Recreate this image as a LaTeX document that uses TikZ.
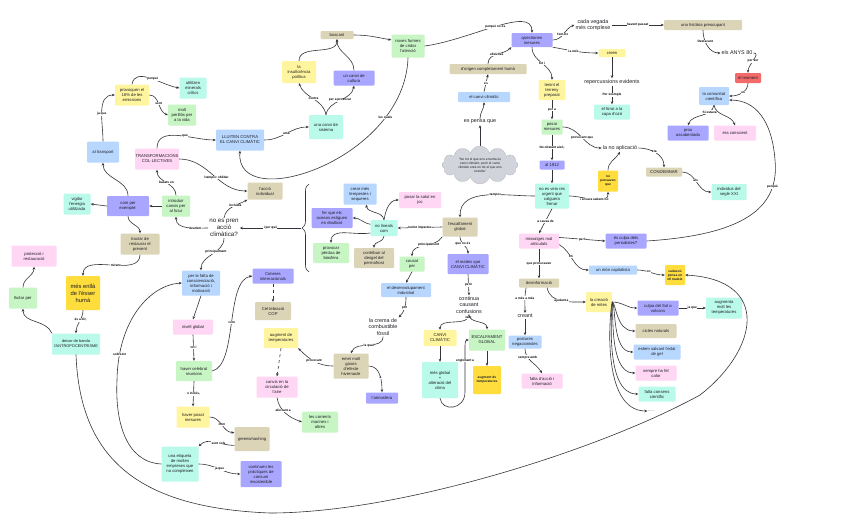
\documentclass[tikz,border=0pt]{standalone}
\usepackage{fontspec}
\setmainfont{Liberation Sans}
\usetikzlibrary{arrows.meta,shapes.symbols,decorations.pathreplacing}
\definecolor{cYel}{HTML}{FFF59E}
\definecolor{cMint}{HTML}{B9FAEA}
\definecolor{cGrn}{HTML}{C7F5C4}
\definecolor{cBlu}{HTML}{B8D7FF}
\definecolor{cPnk}{HTML}{FFD6F3}
\definecolor{cPur}{HTML}{A9A6FF}
\definecolor{cTan}{HTML}{DCD4B6}
\definecolor{cGold}{HTML}{FFDD3C}
\definecolor{cRed}{HTML}{F26A6A}
\definecolor{cCloud}{HTML}{D1D4DA}
\definecolor{cLine}{HTML}{34343C}
\definecolor{cTxt}{HTML}{1E1E24}
\newcommand\fA{\fontsize{4.2}{5}\selectfont}
\newcommand\fT{\fontsize{3.3}{3.9}\selectfont}
\newcommand\fL{\fontsize{3.2}{3.6}\selectfont}
\newcommand\fM{\fontsize{5.4}{6.4}\selectfont}
\newcommand\fB{\fontsize{6.2}{7.2}\selectfont}
\tikzset{
  box/.style={rectangle, rounded corners=1pt, align=center, font=\fA, text=cTxt, inner sep=0.5pt},
  sz/.style 2 args={minimum width=#1pt, minimum height=#2pt},
  byel/.style={box, fill=cYel},
  bmint/.style={box, fill=cMint},
  bgrn/.style={box, fill=cGrn},
  bblu/.style={box, fill=cBlu},
  bpnk/.style={box, fill=cPnk},
  bpur/.style={box, fill=cPur},
  btan/.style={box, fill=cTan},
  bred/.style={box, fill=cRed},
  bgold/.style={box, fill=cGold, font=\fT\bfseries},
  tmid/.style={align=center, font=\fM, text=cTxt, inner sep=1pt},
  tbig/.style={align=center, font=\fB, text=cTxt, inner sep=1pt},
  cloudn/.style={cloud, cloud puffs=12, cloud ignores aspect, minimum width=76pt, minimum height=38pt, fill=cCloud, draw=cCloud!85!black, line width=0.3pt, align=center, font=\fT, text=cTxt, inner sep=0pt},
  lbl/.style={font=\fL\bfseries, fill=white, inner sep=0.4pt, text=black},
  con/.style={draw=cLine, line width=0.6pt, -{Stealth[length=3pt,width=2.6pt]}},
}
\begin{document}
\begin{tikzpicture}[x=1pt,y=1pt]
\fill[white] (0,0) rectangle (848,-530);
\useasboundingbox (0,0) rectangle (848,-530);

% nodes
\node[byel,sz={34}{21}] (prov) at (132,-95) {provoquen el\\18\% de les\\emissions};
\node[bmint,sz={27}{21}] (util) at (193,-88) {utilitzen\\minerals\\crítics};
\node[bgrn,sz={28}{21}] (molt) at (182,-115) {molt\\perillós per\\a la vida};
\node[bblu,sz={32}{21}] (transp) at (103,-152) {al transport};
\node[bpnk,sz={44}{21}] (transf) at (157,-159) {TRANSFORMACIONS\\COL·LECTIVES};
\node[bblu,sz={48}{21}] (lluiten) at (240,-140) {LLUITEN CONTRA\\EL CANVI CLIMÀTIC};
\node[btan,sz={33}{8}] (buscant) at (337,-35) {buscant};
\node[bgrn,sz={33}{23}] (noves) at (408,-46) {noves formes\\de cridar\\l'atenció};
\node[byel,sz={34}{22}] (insuf) at (299,-72) {la\\insuficiència\\política};
\node[bpur,sz={41}{15}] (cultura) at (354,-78) {un canvi de\\cultura};
\node[bmint,sz={34}{24}] (sistema) at (326,-127) {una canvi de\\sistema};
\node[bpur,sz={41}{14}] (qmes) at (532,-40) {qüestionen\\mesures};
\node[tmid] (cada) at (593,-25) {cada vegada\\més complexe};
\node[btan,sz={78}{10}] (hist) at (703,-25) {una història preocupant};
\node[tmid] (anys) at (737,-53) {els ANYS 80};
\node[bred,sz={26}{10}] (moment) at (748,-78) {el moment};
\node[bblu,sz={30}{18}] (comun) at (714,-96) {la comunitat\\científica};
\node[bpur,sz={41}{15}] (prou) at (688,-133) {prou\\assabentada};
\node[bpnk,sz={42}{15}] (era) at (735,-133) {era conscient};
\node[byel,sz={27}{8}] (creen) at (612,-53) {creen};
\node[tmid] (reperc) at (612,-82) {repercussions evidents};
\node[bmint,sz={36}{15}] (forat) at (612,-112) {el forat a la\\capa d'ozó};
\node[btan,sz={77}{10}] (origen) at (488,-69) {d'origen completament humà};
\node[bblu,sz={52}{10}] (cc) at (484,-97) {el canvi climàtic};
\node[tmid] (pensa) at (480,-122) {es pensa que};
\node[cloudn] (cloud) at (480,-165) {"No tot el que ens envolta és\\canvi climàtic, però el canvi\\climàtic està en tot el que ens\\envolta"};
\node[byel,sz={27}{20}] (tenint) at (552,-90) {tenint el\\terreny\\preparat};
\node[bgrn,sz={21}{15}] (posar) at (552,-127) {posar\\mesures};
\node[tmid] (noapl) at (620,-148) {la no aplicació};
\node[bpur,sz={25}{9}] (y1912) at (552,-165) {al 1912};
\node[bgold,sz={20}{21}] (nopens) at (608,-181) {no\\pensaven\\que};
\node[bmint,sz={34}{25}] (noveia) at (552,-196) {no es veia res\\urgent que\\calguera\\frenar};
\node[btan,sz={35}{19}] (escalf) at (460,-227) {l'escalfament\\global};
\node[bpnk,sz={40}{15}] (missat) at (539,-241) {missatges mal\\articulats};
\node[bpur,sz={41}{15}] (culpa) at (626,-241) {és culpa dels\\periodistes?};
\node[bblu,sz={48}{9}] (capit) at (613,-270) {un món capitalista};
\node[bgold,sz={20}{20}] (cadascu) at (675,-275) {cadascú\\pensa en\\ell mateix};
\node[bpur,sz={41}{20}] (mateix) at (468,-264) {el mateix que\\CANVI CLIMÀTIC};
\node[btan,sz={40}{9}] (desinf) at (539,-283) {desinformació};
\node[byel,sz={26}{20}] (mites) at (599,-302) {la creació\\de mites};
\node[bpur,sz={41}{15}] (sol) at (658,-308) {culpa del Sol o\\volcans};
\node[bmint,sz={36}{21}] (augm) at (724,-308) {augmenta\\molt les\\temperatures};
\node[btan,sz={41}{14}] (cicles) at (656,-331) {cicles naturals};
\node[bblu,sz={47}{15}] (gel) at (657,-352) {estem salvant l'edat\\de gel};
\node[bpnk,sz={41}{15}] (calor) at (656,-373) {sempre ha fet\\calor};
\node[bmint,sz={37}{15}] (consens) at (657,-394) {falta consens\\científic};
\node[box] (dots) at (651,-411) {.....};
\node[tmid] (contin) at (469,-305) {continua\\causant\\confusions};
\node[tmid] (creant) at (525,-316) {creant};
\node[byel,sz={33}{16}] (ccbig) at (440,-338) {CANVI\\CLIMÀTIC};
\node[bgrn,sz={36}{21}] (escbig) at (487,-340) {ESCALFAMENT\\GLOBAL};
\node[bblu,sz={33}{13}] (postur) at (525,-342) {postures\\negacionistes};
\node[bmint,sz={36}{36}] (mesgl) at (440,-380) {més global\\+\\alteració del\\clima};
\node[bgold,sz={28}{28}] (augtemp) at (487,-380) {augment de\\temperatures};
\node[bpnk,sz={41}{15}] (faltaacc) at (542,-381) {falta d'acció i\\informació};
\node[tbig] (nopren) at (224,-228) {no es pren\\acció\\climàtica?};
\node[btan,sz={35}{17}] (accio) at (265,-191) {l'acció\\individual};
\coordinate (braceTip) at (301,-228);
\node[bblu,sz={33}{21}] (tempest) at (360,-194) {crear més\\tempestes i\\sequeres};
\node[bpnk,sz={42}{16}] (salut) at (420,-200) {posar la salut en\\joc};
\node[bpur,sz={41}{20}] (oceans) at (332,-218) {fer que els\\oceans estiguen\\en ebullició};
\node[bmint,sz={27}{16}] (nolin) at (384,-228) {no lineals\\com};
\node[bgrn,sz={36}{20}] (biosf) at (331,-253) {provocar\\pèrdua de\\biosfera};
\node[btan,sz={40}{20}] (permaf) at (374,-258) {contribuir al\\desgel del\\permafrost};
\node[bgrn,sz={25}{15}] (causat) at (412,-264) {causat\\per};
\node[bblu,sz={50}{14}] (desenv) at (406,-290) {el desenvolupament\\industrial};
\node[tmid] (crema) at (383,-327) {la crema de\\combustible\\fòssil};
\node[btan,sz={35}{25}] (emet) at (351,-366) {emet molt\\gasos\\d'efecte\\hivernacle};
\node[bpur,sz={32}{11}] (atmos) at (382,-398) {l'atmosfera};
\node[byel,sz={34}{20}] (augtemp2) at (281,-338) {augment de\\temperatures};
\node[bpnk,sz={41}{21}] (canvis) at (277,-387) {canvis en la\\circulació de\\l'aire};
\node[bgrn,sz={36}{21}] (corr) at (320,-422) {les corrents\\marines i\\altres};
\node[bpur,sz={41}{15}] (cimeres) at (273,-276) {Cimeres\\internacionals};
\node[btan,sz={36}{18}] (cop) at (273,-311) {Cel·lebració\\COP};
\node[bblu,sz={38}{25}] (faltaconsc) at (201,-283) {per la falta de\\conscienciació,\\informació i\\motivació};
\node[bpnk,sz={40}{15}] (nivell) at (193,-327) {nivell global};
\node[bgrn,sz={36}{20}] (celeb) at (194,-371) {haver celebrat\\reunions};
\node[byel,sz={33}{21}] (posat) at (193,-417) {haver posat\\mesures};
\node[btan,sz={35}{24}] (greenw) at (252,-439) {greenwhashing};
\node[bmint,sz={37}{35}] (etiq) at (180,-464) {una etiqueta\\de moltes\\empreses que\\no compleixen};
\node[bpur,sz={41}{26}] (contpr) at (261,-474) {continuen les\\pràctiques de\\consum\\insostenible};
\node[bpur,sz={42}{20}] (comper) at (128,-206) {com per\\exemple:};
\node[bmint,sz={27}{21}] (vigilar) at (77,-204) {vigilar\\l'energia\\utilitzada};
\node[bgrn,sz={28}{21}] (introd) at (176,-206) {introduir\\canvis per\\al futur};
\node[btan,sz={39}{21}] (tractar) at (140,-244) {tractar de\\restaurar el\\present};
\node[bgold,sz={34}{34},font=\fontsize{5.8}{7}\selectfont] (enlla) at (83,-293) {més enllà\\de l'ésser\\humà};
\node[bpnk,sz={45}{21}] (protec) at (34,-256) {protecció i\\restauració};
\node[bgrn,sz={28}{21}] (lluitar) at (23,-298) {lluitar per};
\node[bmint,sz={48}{21},font=\fontsize{3.9}{5}\selectfont] (deixar) at (76,-344) {deixar de banda\\l'ANTROPOCENTRISME};
\node[btan,sz={36}{9}] (condem) at (664,-172) {CONDEMNAR};
\node[bmint,sz={35}{16}] (indiv) at (729,-192) {individus del\\segle XXI};

% connectors
\draw[con] (transp.north) to[out=90,in=180] node[lbl,pos=0.45]{ja que} (prov.west);
\draw[con] (prov.north) to[out=80,in=170] node[lbl,pos=0.55]{perquè} (util.west);
\draw[con] (prov.east) to[out=0,in=160] node[lbl,pos=0.5]{sent} (molt.west);
\draw[con] (transf.north) to[out=90,in=180] node[lbl,pos=0.6]{que} (lluiten.west);
\draw[con] (transf.east) to[out=0,in=180] node[lbl,pos=0.55]{i tampoc oblidar} (accio.west);
\draw[con] (introd.north) to[out=90,in=-90] node[lbl,pos=0.5]{basats en} (transf.south);
\draw[con] (comper.north) to[out=90,in=-90] (transp.south);
\draw[con] (comper.west) -- (vigilar.east);
\draw[con] (introd.west) -- (comper.east);
\draw[con] (nopren.west) to[out=180,in=-90] node[lbl,pos=0.3]{deuríem} (introd.south);
\draw[con] (comper.south) to[out=-90,in=90] (tractar.north);
\draw[con] (tractar.south) to[out=-90,in=90] node[lbl,pos=0.45]{mirant} (enlla.north);
\draw[con] (enlla.south) to[out=-90,in=90] node[lbl,pos=0.4]{és a dir,} (deixar.north);
\draw[con] (deixar.north west) to[out=110,in=-90] (lluitar.south);
\draw[con] (lluitar.north) to[out=90,in=-90] (protec.south);
\draw[con] (deixar.south) .. controls (80,-460) and (140,-508) .. (270,-513)
  .. controls (400,-513) and (600,-450) .. (700,-395)
  .. controls (758,-350) and (772,-280) .. (cadascu.east);
\draw[con] (nopren.south) to[out=-90,in=90] node[lbl,pos=0.4]{principalment} (faltaconsc.north);
\draw[con] (nopren.north) to[out=80,in=210] node[lbl,pos=0.6]{incluïda} (accio.south west);
\draw[decorate,decoration={brace,amplitude=7pt},draw=cLine,line width=0.6pt] (309,-272) -- (309,-184);
\draw[con] (braceTip) -- node[lbl]{i per què} (nopren.east);
\draw[con] (nolin.north) to[out=100,in=-80] (tempest.-60);
\draw[con] (nolin.north) to[out=80,in=180] (salut.west);
\draw[con] (nolin.165) to[out=170,in=0] (oceans.east);
\draw[con] (nolin.200) to[out=190,in=90] (biosf.north);
\draw[con] (nolin.south) to[out=-90,in=90] (permaf.north);
\draw[con] (escalf.west) -- node[lbl]{tenint impactes} (nolin.east);
\draw[con] (escalf.south west) to[out=-120,in=90] node[lbl,pos=0.4]{principalment} (causat.north);
\draw[con] (escalf.south) to[out=-90,in=90] node[lbl,pos=0.4]{que no és} (mateix.north);
\draw[con] (causat.south) -- (desenv.north);
\draw[con] (desenv.south) to[out=-90,in=45] node[lbl,pos=0.5]{per} (crema.north east);
\draw[con] (crema.south) to[out=-90,in=70] node[lbl,pos=0.5]{la qual} (emet.north);
\draw[con] (emet.west) to[out=180,in=-45] node[lbl,pos=0.5]{provocant} (augtemp2.south east);
\draw[con] (emet.east) to[out=0,in=90] node[lbl,pos=0.6]{a} (atmos.north);
\draw[con,dashed] (augtemp2.south) -- (canvis.north);
\draw[con,dashed] (cimeres.south) -- (cop.north);
\draw[con] (canvis.south) to[out=-80,in=160] node[lbl,pos=0.4]{afectant a} (corr.west);
\draw[con] (faltaconsc.south) -- (nivell.north);
\draw[con] (nivell.south) -- node[lbl]{tot i} (celeb.north);
\draw[con] (celeb.south) -- node[lbl]{o inclús,} (posat.north);
\draw[con] (celeb.east) .. controls (238,-365) and (225,-280) .. (cimeres.west) node[lbl,pos=0.5]{com};
\draw[con] (posat.east) to[out=0,in=180] node[lbl,pos=0.5]{com} (greenw.160);
\draw[con] (greenw.200) to[out=180,in=45] node[lbl,pos=0.4]{sent sols} (etiq.north east);
\draw[con] (etiq.east) to[out=0,in=180] node[lbl,pos=0.5]{ja que} (contpr.west);
\draw[con] (etiq.west) .. controls (125,-462) and (115,-420) .. (117,-380)
  .. controls (118,-320) and (150,-285) .. (faltaconsc.west) node[lbl,pos=0.15]{sobretot};
\draw[con] (lluiten.east) to[out=0,in=180] node[lbl,pos=0.5]{amb} (sistema.west);
\draw[con] (sistema.north) to[out=100,in=-70] node[lbl,pos=0.5]{contra} (insuf.south);
\draw[con] (sistema.north) to[out=80,in=-100] node[lbl,pos=0.5]{per a provocar} (cultura.south);
\draw[con] (insuf.north) to[out=90,in=-90] (buscant.south);
\draw[con] (cultura.north) to[out=90,in=-90] (buscant.south);
\draw[con] (buscant.east) to[out=0,in=170] (noves.160);
\draw[con] (noves.south) .. controls (405,-160) and (235,-215) .. (lluiten.south) node[lbl,pos=0.22]{les quals};
\draw[con] (noves.east) .. controls (470,-40) and (532,-5) .. (qmes.north) node[lbl,pos=0.5]{perquè no es};
\draw[con] (origen.north) to[out=90,in=-135] node[lbl,pos=0.5]{ells/elles} (qmes.south west);
\draw[con] (cc.north) -- node[lbl]{és} (origen.south);
\draw[con] (pensa.north) to[out=90,in=-90] (cc.south);
\draw[con] (cloud.north) -- (pensa.south);
\draw[con] (qmes.east) to[out=0,in=200] node[lbl,pos=0.45]{fent-ho} (cada.west);
\draw[con] (cada.east) -- node[lbl]{havent passat} (hist.west);
\draw[con] (hist.south) to[out=-90,in=180] node[lbl,pos=0.35]{Destacant} (anys.west);
\draw[con] (anys.east) to[out=0,in=90] node[lbl,pos=0.55]{per ser} (moment.north);
\draw[con] (moment.south) to[out=-90,in=0] node[lbl,pos=0.45]{on} (comun.east);
\draw[con] (comun.south) to[out=-100,in=70] node[lbl,pos=0.25]{Si estava} (prou.north);
\draw[con] (comun.south) to[out=-80,in=110] (era.north);
\draw[con] (qmes.south east) to[out=-10,in=180] node[lbl,pos=0.45]{i a més} (creen.west);
\draw[con] (creen.south) -- (reperc.north);
\draw[con] (reperc.south) -- node[lbl]{Per exemple} (forat.north);
\draw[con] (qmes.south) to[out=-90,in=90] node[lbl,pos=0.5]{tot i} (tenint.north);
\draw[con] (tenint.south) -- node[lbl]{per a} (posar.north);
\draw[con] (posar.east) to[out=0,in=180] node[lbl,pos=0.5]{provocant que} (noapl.west);
\draw[con] (posar.south) -- node[lbl]{No obstant això,} (y1912.north);
\draw[con] (y1912.south) -- (noveia.north);
\draw[con] (noveia.east) to[out=0,in=-90] node[lbl,pos=0.5]{i encara sabent-ho} (nopens.south);
\draw[con] (nopens.north) to[out=90,in=-120] (noapl.south);
\draw[con] (noapl.east) to[out=0,in=90] node[lbl,pos=0.45]{era} (condem.north);
\draw[con] (condem.east) to[out=0,in=180] node[lbl,pos=0.45]{als} (indiv.west);
\draw[con] (noveia.west) to[out=180,in=90] node[lbl,pos=0.4]{tampoc} (escalf.north);
\draw[con] (noveia.south) -- node[lbl]{a causa de} (missat.north);
\draw[con] (missat.10) -- node[lbl]{però} (culpa.west);
\draw[con] (missat.-10) to[out=-30,in=180] node[lbl,pos=0.4]{en} (capit.west);
\draw[con] (capit.east) to[out=0,in=180] node[lbl,pos=0.4]{on} (cadascu.west);
\draw[con] (culpa.east) .. controls (740,-235) and (780,-210) .. (775,-160) node[lbl,pos=0.8]{perquè}
  .. controls (772,-120) and (755,-100) .. (comun.-15);
\draw[con] (missat.south) -- node[lbl]{que provocaven} (desinf.north);
\draw[con] (mateix.south) -- node[lbl]{però} (contin.north);
\draw[con] (contin.south) to[out=-90,in=90] node[lbl,pos=0.08]{tant} (ccbig.north);
\draw[con] (contin.south) to[out=-90,in=90] (escbig.north);
\draw[con] (ccbig.south) -- (mesgl.north);
\draw[con] (escbig.south) -- (augtemp.north);
\draw[con] (mesgl.south) .. controls (442,-412) and (465,-410) .. (465,-392) -- (465,-350) node[lbl,pos=0.75]{englobant a}
  to[out=90,in=180] (escbig.west);
\draw[con] (desinf.200) to[out=-100,in=90] node[lbl,pos=0.4]{a més a més} (creant.north);
\draw[con] (creant.south) -- (postur.north);
\draw[con] (postur.south) to[out=-90,in=120] node[lbl,pos=0.3]{sempre amb} (faltaacc.north);
\draw[con] (desinf.-30) to[out=-80,in=180] node[lbl,pos=0.5]{ajudant a} (mites.west);
\draw[con] (mites.east) to[out=0,in=180] (sol.west);
\draw[con] (mites.east) .. controls (616,-302) and (616,-331) .. (cicles.west);
\draw[con] (mites.east) .. controls (616,-304) and (612,-352) .. (gel.west);
\draw[con] (mites.east) .. controls (614,-306) and (608,-373) .. (calor.west);
\draw[con] (mites.east) .. controls (612,-308) and (604,-394) .. (consens.west);
\draw[con] (mites.east) .. controls (610,-310) and (600,-411) .. (dots.west);
\draw[con] (sol.east) -- node[lbl]{ja que} (augm.west);
\end{tikzpicture}
\end{document}
